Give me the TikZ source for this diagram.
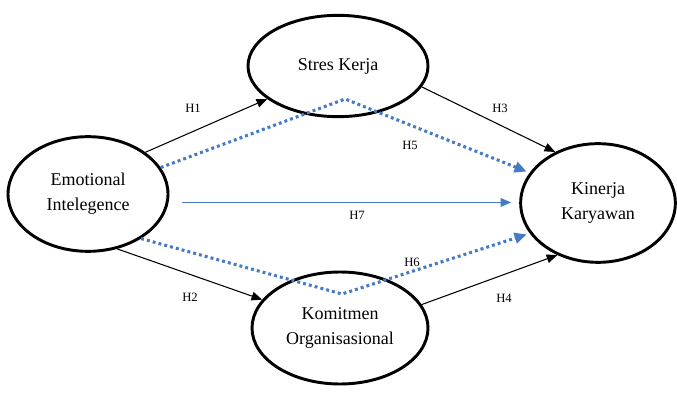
\documentclass[tikz,border=0pt]{standalone}
\usepackage{fontspec}
\setmainfont{Liberation Serif}
\usetikzlibrary{shapes,arrows.meta,positioning}
\definecolor{pathblue}{RGB}{68,122,198}
\tikzstyle{construct} = [ellipse, draw=black, line width=2.2pt, inner sep=0pt, align=center, font=\fontsize{13.5}{18.5}\selectfont]
\tikzstyle{arrow} = [line width=0.8pt, -{Triangle[length=8pt,width=6.5pt]}]
\tikzstyle{direct} = [pathblue, line width=1.1pt, -{Triangle[length=8pt,width=6.5pt]}]
\tikzstyle{indirect} = [pathblue, line width=2.3pt, dash pattern=on 2.2pt off 2.3pt, -{Triangle[length=9pt,width=8pt]}]
\tikzstyle{hyp} = [font=\fontsize{9.5}{11}\selectfont, inner sep=1pt]

\begin{document}
\begin{tikzpicture}[x=0.75pt, y=-0.75pt]
	\useasboundingbox (0,0) rectangle (677,392);
	\node (emo) [construct, minimum width=120pt, minimum height=86pt] at (88,194) {Emotional\\Intelegence};
	\node (stres) [construct, minimum width=135pt, minimum height=76pt] at (338,66) {Stres Kerja};
	\node (kom) [construct, minimum width=132pt, minimum height=84pt] at (340,328) {Komitmen\\Organisasional};
	\node (kin) [construct, minimum width=116pt, minimum height=89pt] at (598,203) {Kinerja\\Karyawan};
	\coordinate (top) at (345,99);
	\coordinate (bottom) at (342,294);
	\draw [arrow] (emo.36) -- (stres.205);
	\draw [arrow] (emo.-62) -- (kom.160);
	\draw [arrow] (stres.-14) -- (kin.130);
	\draw [arrow] (kom.16) -- (kin.-128);
	\draw [direct] ([xshift=10pt]emo.-6) -- ([xshift=-6pt]kin.west |- emo.-6);
	\draw [indirect] (emo.20) -- (top) -- ([xshift=-3pt]kin.155);
	\draw [indirect] (emo.-40) -- (bottom) -- ([xshift=-3pt]kin.-155);
	\node (h1) [hyp] at (193,108) {H1};
	\node (h2) [hyp] at (190,297) {H2};
	\node (h3) [hyp] at (500,108) {H3};
	\node (h4) [hyp] at (504,298) {H4};
	\node (h5) [hyp] at (410,145) {H5};
	\node (h6) [hyp] at (412,262) {H6};
	\node (h7) [hyp] at (357,215) {H7};
\end{tikzpicture}
\end{document}
